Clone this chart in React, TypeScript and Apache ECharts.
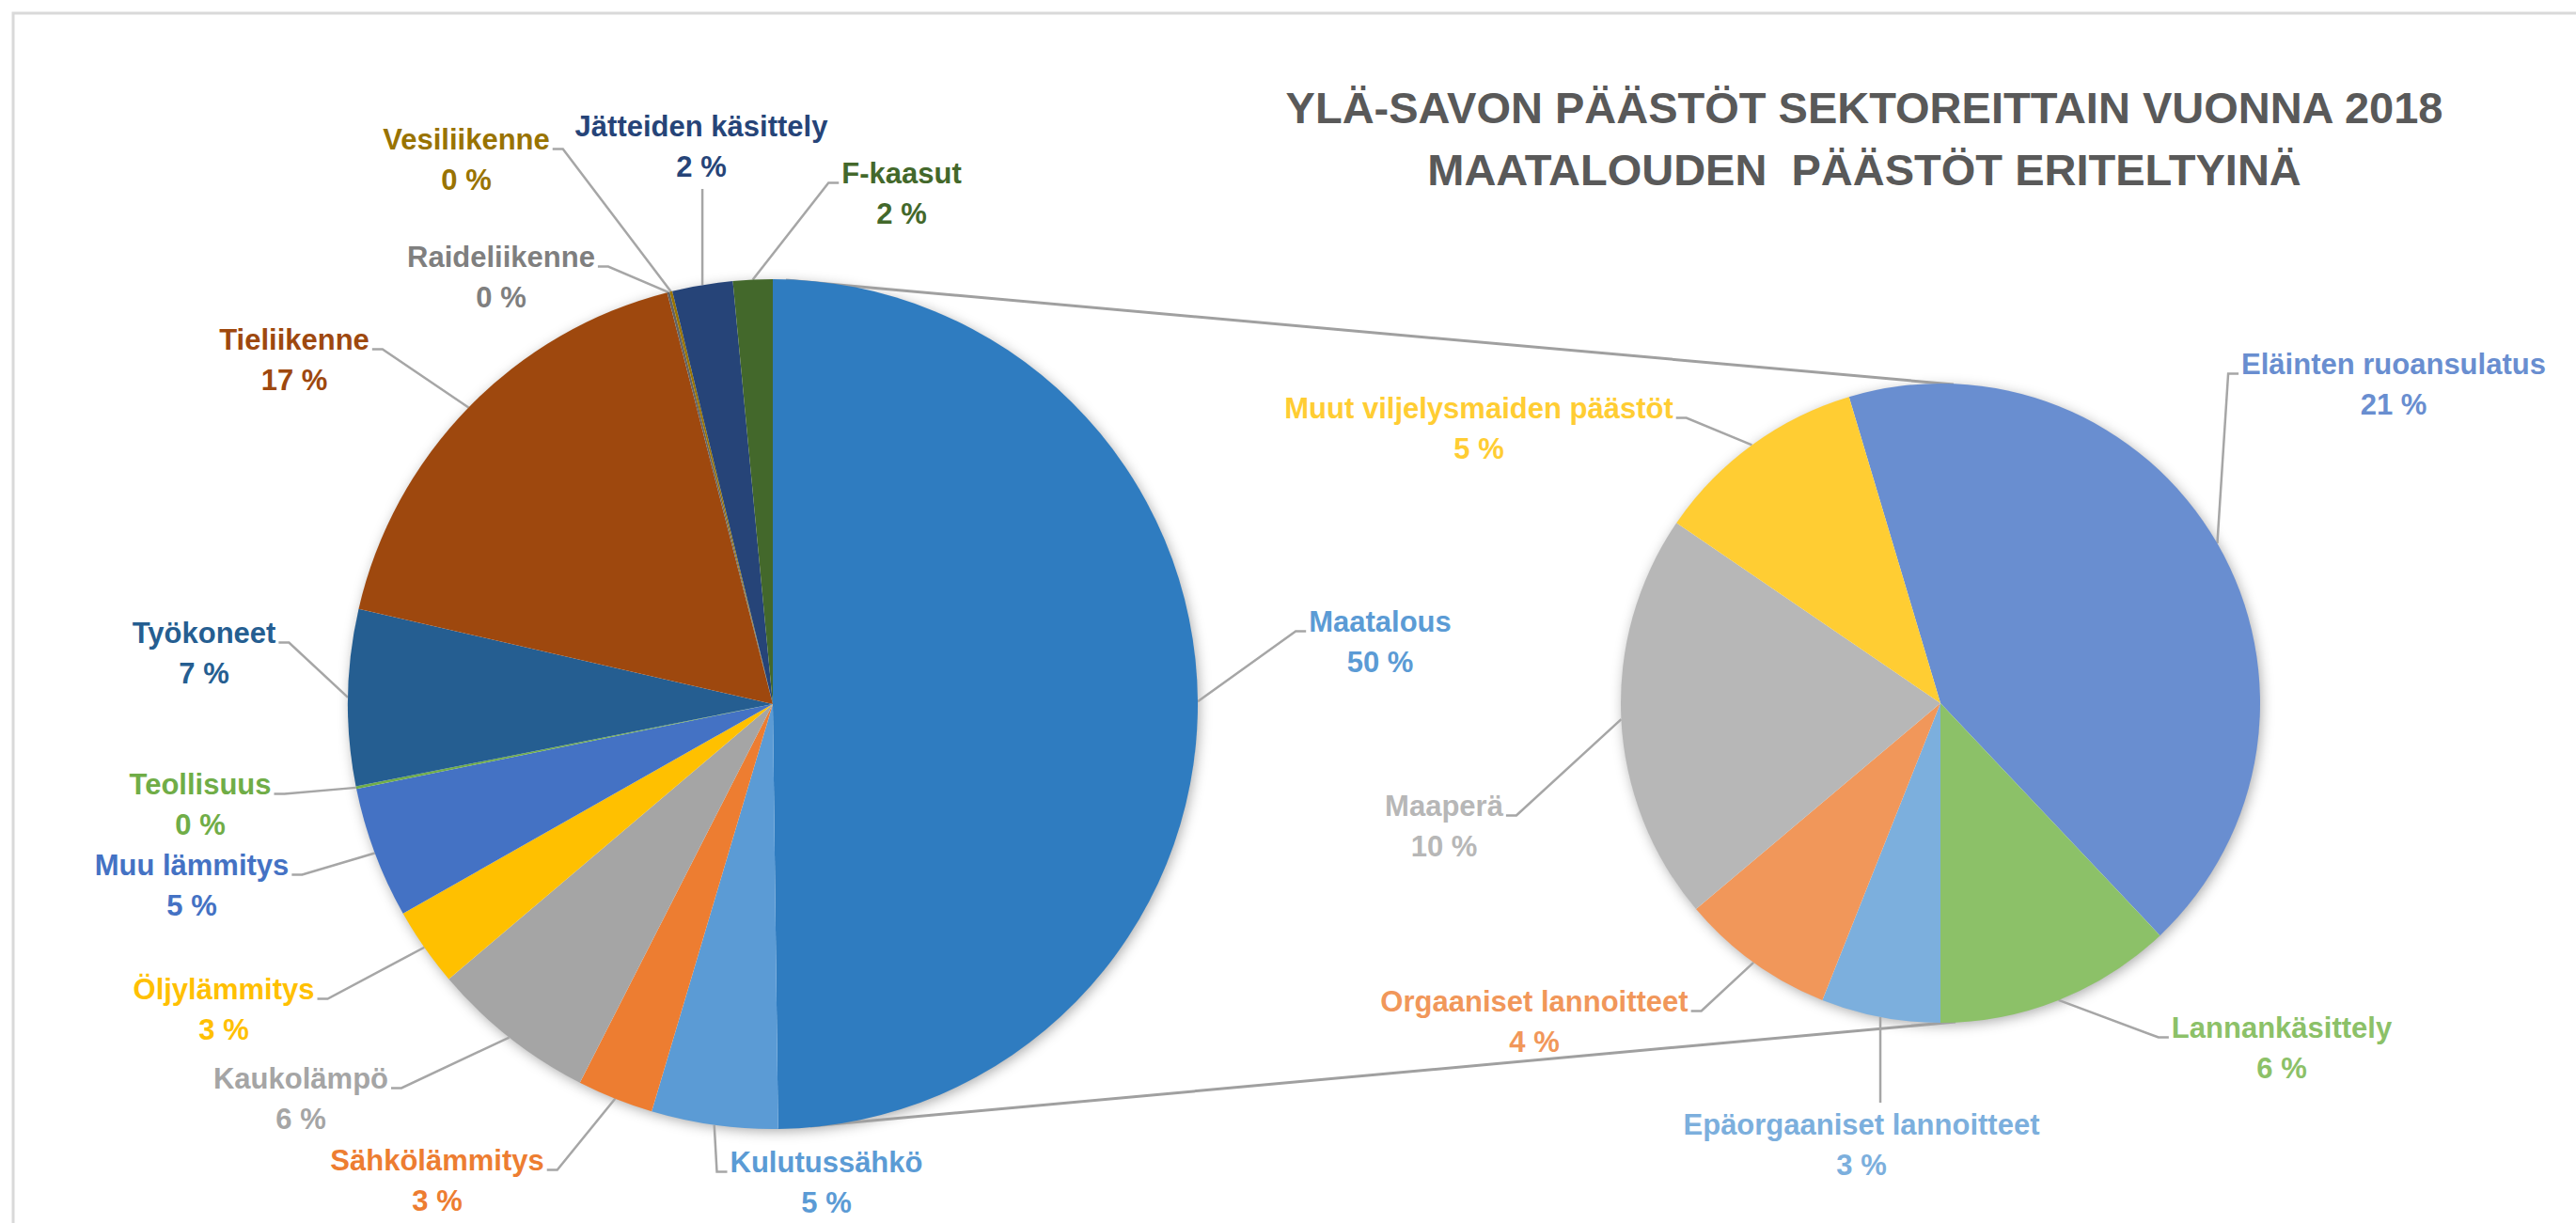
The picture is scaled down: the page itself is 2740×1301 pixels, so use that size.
import React, { useEffect, useRef } from 'react';
import * as echarts from 'echarts';

// ---- Data ----
const TITLE_LINES = ['YLÄ-SAVON PÄÄSTÖT SEKTOREITTAIN VUONNA 2018', 'MAATALOUDEN  PÄÄSTÖT ERITELTYINÄ'];

const mainNames = [
  'Maatalous', 'Kulutussähkö', 'Sähkölämmitys', 'Kaukolämpö', 'Öljylämmitys', 'Muu lämmitys',
  'Teollisuus', 'Työkoneet', 'Tieliikenne', 'Raideliikenne', 'Vesiliikenne', 'Jätteiden käsittely', 'F-kaasut',
];
const mainValues = [49.8, 4.8, 2.9, 6.3, 3.0, 5.0, 0.1, 6.7, 17.4, 0.1, 0.1, 2.3, 1.5];

const subNames = [
  'Eläinten ruoansulatus', 'Lannankäsittely', 'Epäorgaaniset lannoitteet',
  'Orgaaniset lannoitteet', 'Maaperä', 'Muut viljelysmaiden päästöt',
];
const subValues = [21.2, 6.0, 3.0, 3.9, 10.3, 5.4];

// ---- Styles ----
const mainColors = ['#2F7CC0', '#5B9BD5', '#ED7D31', '#A5A5A5', '#FFC000', '#4472C4', '#70AD47', '#255E91', '#9E480E', '#636363', '#997300', '#264478', '#43682B'];
const mainLabelColors = ['#5B9BD5', '#5B9BD5', '#ED7D31', '#A5A5A5', '#FFC000', '#4472C4', '#70AD47', '#255E91', '#9E480E', '#7F7F7F', '#997300', '#264478', '#43682B'];
const subColors = ['#698ED0', '#8CC168', '#7CAFDD', '#F1975A', '#B7B7B7', '#FFCD33'];

// label block centres (px)
const mainLabelPos = [
  [1468, 683], [879, 1258], [465, 1256], [320, 1169], [238, 1074], [204, 942],
  [213, 856], [217, 695], [313, 383], [533, 295], [496, 170], [746, 156], [959, 206],
];
const subLabelPos = [
  [2546, 409], [2427, 1115], [1980, 1218], [1632, 1087], [1536, 879], [1573, 456],
];

const W = 2740;
const H = 1301;
const C1 = [822, 749];
const R1 = 452;
const C2 = [2064, 748];
const R2 = 340;
const FONT = '"Liberation Sans", Arial, sans-serif';
const FS = 31;
const LH = 43;
const LINE_COLOR = '#A6A6A6';

function makeLayout(pos: number[][]) {
  return (params: any) => {
    const p = pos[params.dataIndex];
    const w = params.labelRect.width;
    const h = LH * 2;
    const left = p[0] - w / 2;
    const right = p[0] + w / 2;
    const top = p[1] - h / 2;
    const bottom = p[1] + h / 2;
    const nameY = top + LH / 2 + 10;
    const a = params.labelLinePoints ? params.labelLinePoints[0] : null;
    let pts: number[][] | undefined;
    if (a) {
      if (a[0] >= left && a[0] <= right) {
        const ey = a[1] > p[1] ? bottom + 2 : top - 2;
        pts = [[a[0], a[1]], [a[0], ey], [a[0], ey]];
      } else if (a[0] > right) {
        pts = [[a[0], a[1]], [right + 14, nameY], [right + 3, nameY]];
      } else {
        pts = [[a[0], a[1]], [left - 14, nameY], [left - 3, nameY]];
      }
    }
    return { x: p[0], y: p[1], align: 'center', verticalAlign: 'middle', labelLinePoints: pts };
  };
}

function pieSeries(names: string[], values: number[], colors: string[], labelColors: string[], center: number[], radius: number, startAngle: number, pos: number[][]) {
  return {
    type: 'pie',
    center,
    radius,
    startAngle,
    clockwise: true,
    avoidLabelOverlap: false,
    silent: true,
    z: 3,
    itemStyle: { borderWidth: 0 },
    label: {
      show: true,
      position: 'outside',
      fontFamily: FONT,
      fontWeight: 'bold',
      fontSize: FS,
      lineHeight: LH,
      align: 'center',
      formatter: (p: any) => `${p.name}\n${Math.round(p.value)} %`,
    },
    labelLine: { show: true, length: 20, length2: 20, lineStyle: { color: LINE_COLOR, width: 2.5 } },
    labelLayout: makeLayout(pos),
    emphasis: { disabled: true },
    data: names.map((n, i) => ({
      name: n,
      value: values[i],
      itemStyle: { color: colors[i] },
      label: { color: labelColors[i] },
    })),
  };
}

export default function App() {
  const ref = useRef<HTMLDivElement>(null);
  useEffect(() => {
    if (!ref.current) return;
    const chart = echarts.init(ref.current, null, { renderer: 'svg' });
    const subTotal = subValues.reduce((s, v) => s + v, 0);
    const subStart = 90 + ((subValues[0] + subValues[1]) / subTotal) * 360 - 180;

    const shadow = { shadowBlur: 14, shadowOffsetX: 2, shadowOffsetY: 3, shadowColor: 'rgba(0,0,0,0.35)' };

    chart.setOption({
      animation: false,
      backgroundColor: '#ffffff',
      graphic: [
        { type: 'rect', z: 0, shape: { x: 14, y: 14, width: W + 20, height: H + 20 }, style: { fill: 'none', stroke: '#D9D9D9', lineWidth: 3 } },
        { type: 'circle', z: 1, shape: { cx: C1[0], cy: C1[1], r: R1 - 1 }, style: { fill: '#ffffff', ...shadow } },
        { type: 'circle', z: 1, shape: { cx: C2[0], cy: C2[1], r: R2 - 1 }, style: { fill: '#ffffff', ...shadow } },
        { type: 'line', z: 1, shape: { x1: C1[0] + 14, y1: C1[1] - R1 + 1, x2: C2[0] + 14, y2: C2[1] - R2 + 1 }, style: { stroke: '#A0A0A0', lineWidth: 3 } },
        { type: 'line', z: 1, shape: { x1: C1[0] + 40, y1: C1[1] + R1 - 3, x2: C2[0] + 16, y2: C2[1] + R2 - 1 }, style: { stroke: '#A0A0A0', lineWidth: 3 } },
        { type: 'text', z: 5, x: 1983, y: 114, style: { text: TITLE_LINES[0], align: 'center', verticalAlign: 'middle', fill: '#595959', font: `bold 47px ${FONT}` } },
        { type: 'text', z: 5, x: 1983, y: 180, style: { text: TITLE_LINES[1], align: 'center', verticalAlign: 'middle', fill: '#595959', font: `bold 47px ${FONT}` } },
      ],
      series: [
        pieSeries(mainNames, mainValues, mainColors, mainLabelColors, C1, R1, 90, mainLabelPos),
        pieSeries(subNames, subValues, subColors, subColors, C2, R2, subStart, subLabelPos),
      ],
    });
    return () => chart.dispose();
  }, []);
  return <div ref={ref} style={{ position: 'fixed', left: 0, top: 0, width: W, height: H }} />;
}
